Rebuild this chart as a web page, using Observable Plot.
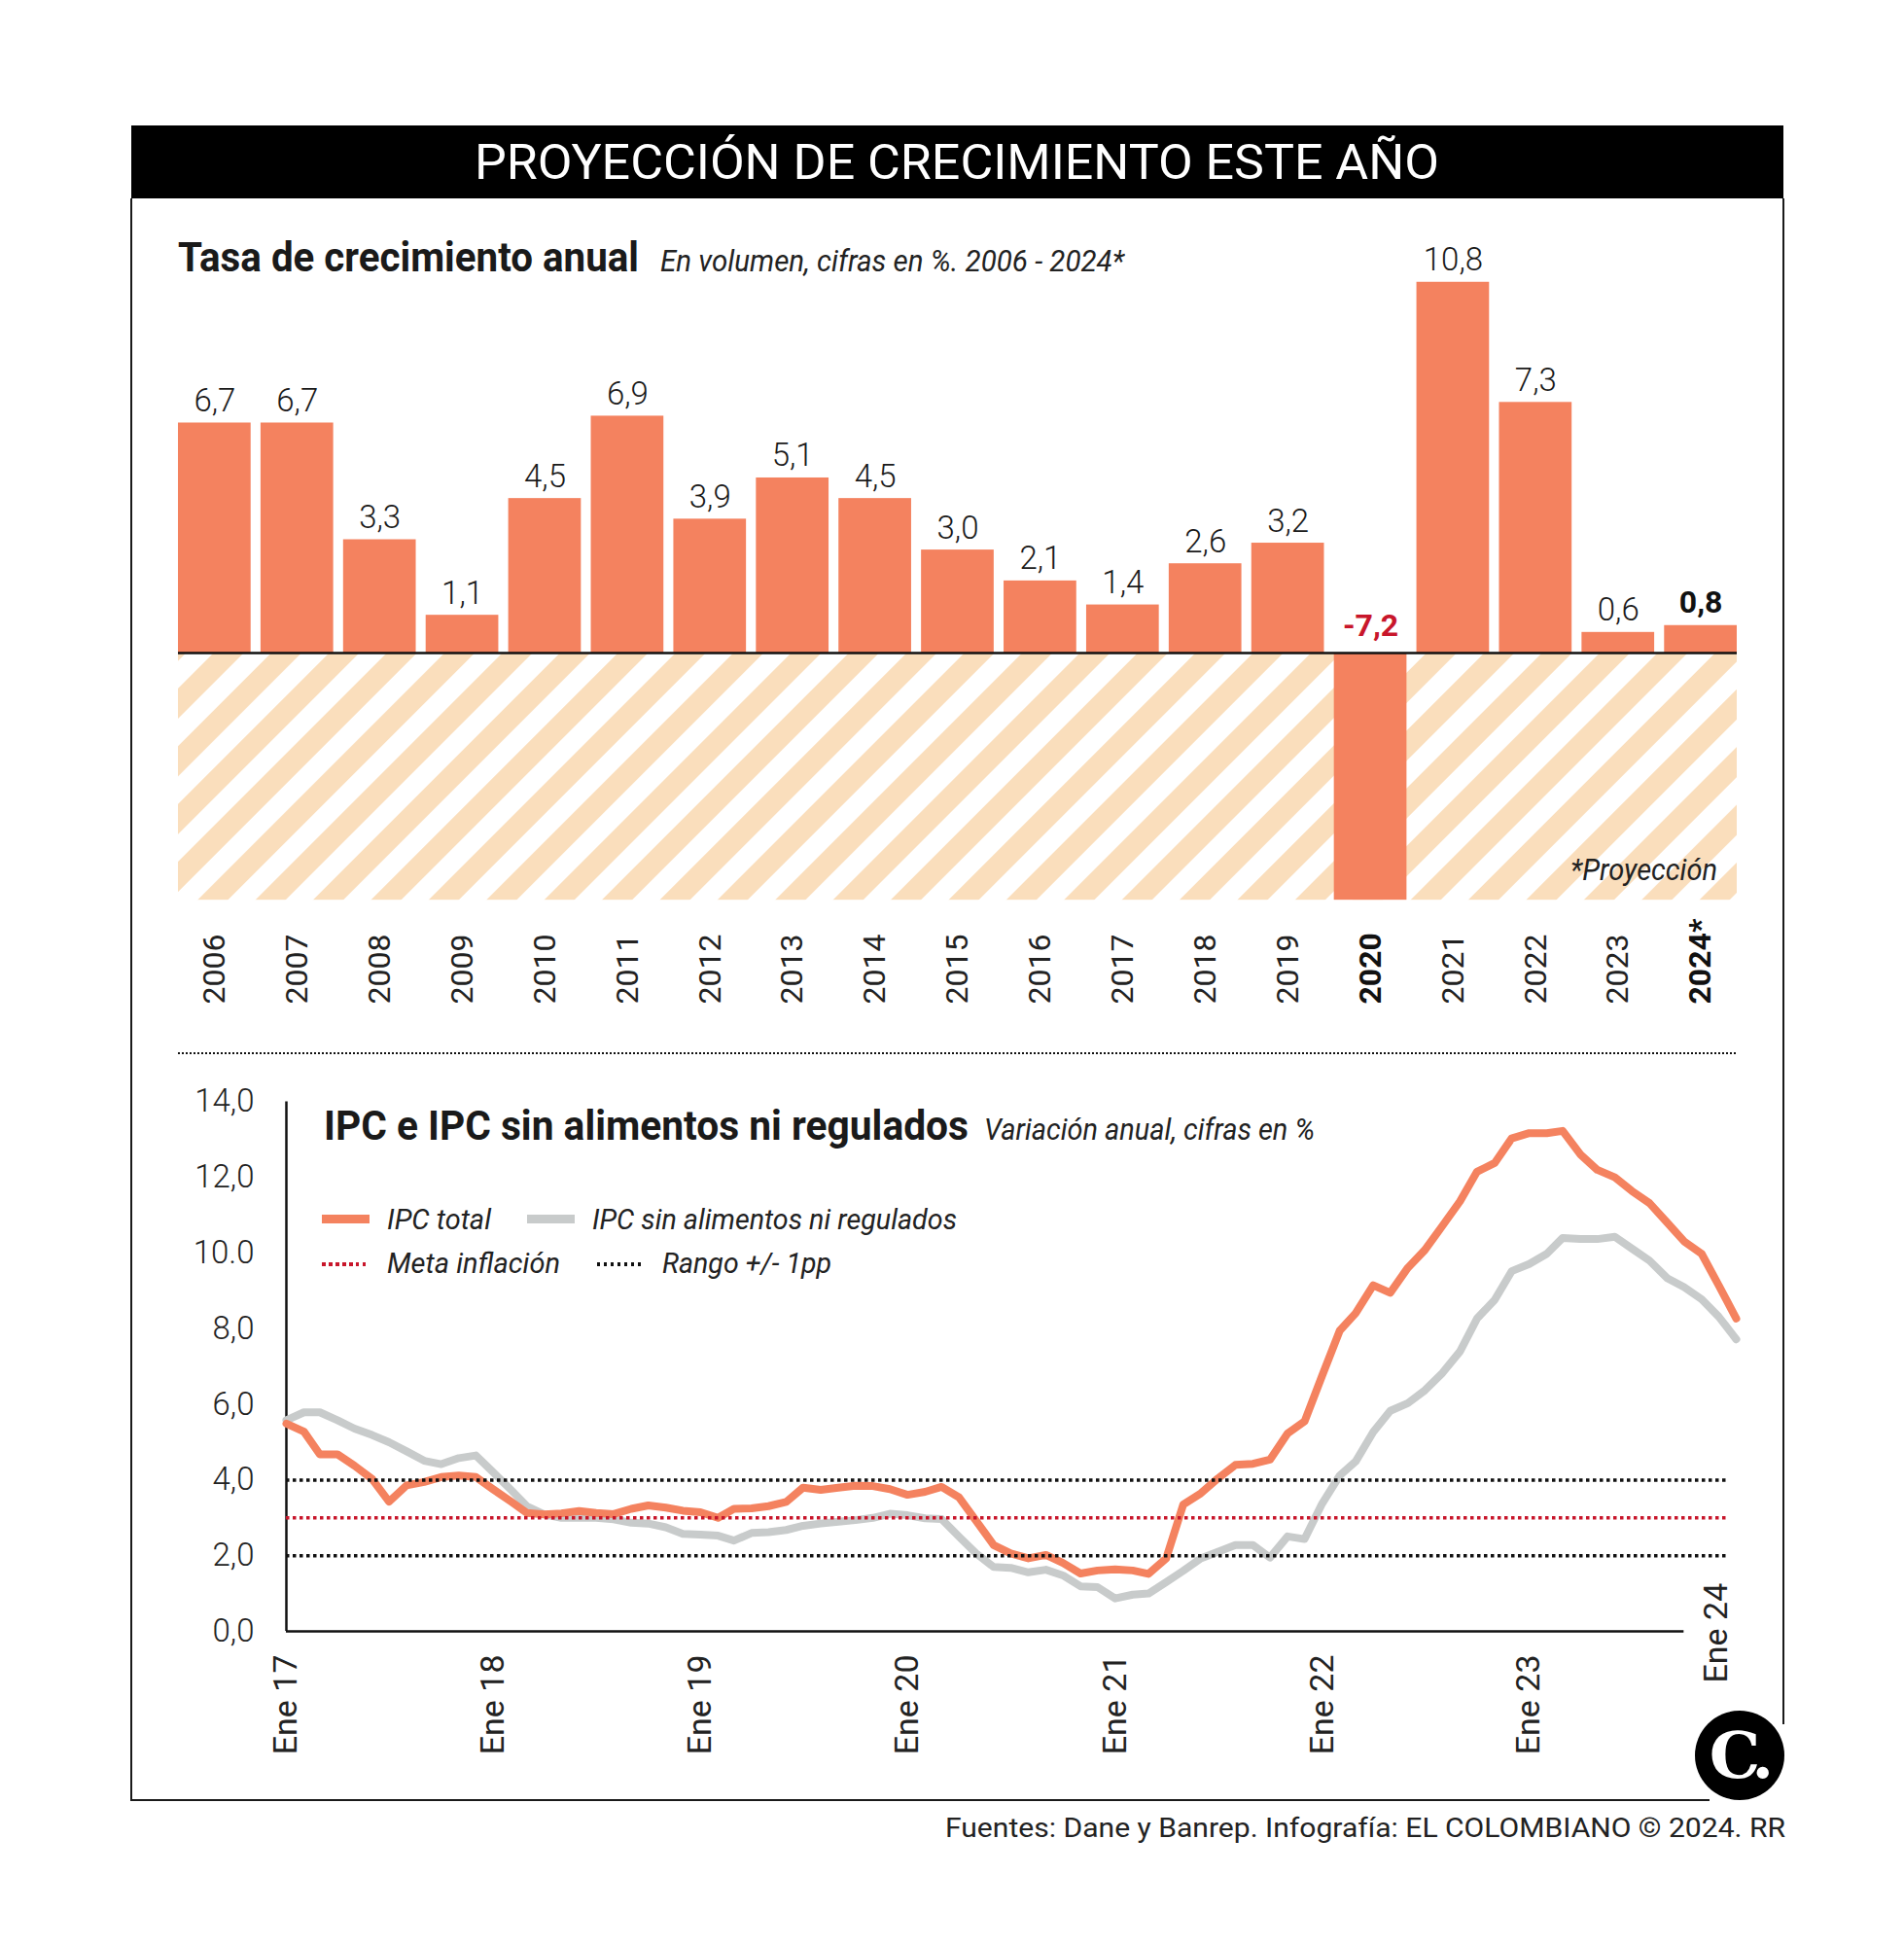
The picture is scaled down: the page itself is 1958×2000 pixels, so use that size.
<!DOCTYPE html>
<html><head><meta charset="utf-8">
<script src="https://cdn.jsdelivr.net/npm/d3@7"></script>
<script src="https://cdn.jsdelivr.net/npm/@observablehq/plot@0.6"></script>
<style>
body{margin:0;background:#fff;}
#page{position:relative;width:1958px;height:2000px;overflow:hidden;font-family:Roboto,sans-serif;color:#1a1a1a;background:#fff;}
.abs{position:absolute;white-space:nowrap;line-height:1;}
.plot{position:absolute;left:0;}
</style></head>
<body>
<svg width="0" height="0" style="position:absolute">
  <defs>
    <pattern id="stripes" patternUnits="userSpaceOnUse" width="42" height="42" patternTransform="rotate(45)">
      <rect width="42" height="42" fill="#ffffff"></rect>
      <rect width="22" height="42" fill="#FADEBC"></rect>
    </pattern>
  </defs>
</svg>
<div id="page"></div>
<script>
// ---------------- DATA ----------------
const years = ["2006","2007","2008","2009","2010","2011","2012","2013","2014","2015","2016","2017","2018","2019","2020","2021","2022","2023","2024"];
const growth = [6.7,6.7,3.3,1.1,4.5,6.9,3.9,5.1,4.5,3.0,2.1,1.4,2.6,3.2,-7.2,10.8,7.3,0.6,0.8];
const yearLabels = ["2006","2007","2008","2009","2010","2011","2012","2013","2014","2015","2016","2017","2018","2019","2020","2021","2022","2023","2024*"];
const boldYears = ["2020","2024"];

const ipcTotal = [
5.49,5.28,4.68,4.68,4.38,4.03,3.43,3.86,3.95,4.08,4.12,4.08,
3.75,3.43,3.13,3.09,3.12,3.18,3.13,3.10,3.24,3.33,3.27,3.19,
3.15,3.00,3.24,3.25,3.31,3.42,3.80,3.74,3.80,3.85,3.84,3.76,
3.61,3.69,3.82,3.54,2.92,2.28,2.06,1.93,2.02,1.81,1.53,1.61,
1.64,1.61,1.52,1.93,3.35,3.65,4.04,4.40,4.43,4.54,5.23,5.55,
6.76,7.95,8.41,9.15,8.95,9.61,10.08,10.72,11.37,12.15,12.38,13.03,
13.17,13.17,13.23,12.61,12.20,12.00,11.64,11.32,10.81,10.31,9.98,9.15,
8.27];
const ipcCore = [
5.58,5.79,5.79,5.58,5.36,5.19,5.00,4.76,4.51,4.42,4.58,4.65,
4.20,3.74,3.31,3.09,3.00,3.00,3.00,2.96,2.87,2.85,2.75,2.58,
2.56,2.53,2.40,2.60,2.62,2.68,2.79,2.85,2.90,2.94,3.00,3.11,
3.07,2.99,2.97,2.50,2.06,1.70,1.68,1.56,1.63,1.48,1.19,1.17,
0.87,0.97,1.00,1.30,1.60,1.93,2.10,2.28,2.28,1.95,2.51,2.44,
3.38,4.12,4.49,5.27,5.83,6.03,6.37,6.83,7.40,8.27,8.76,9.52,
9.71,9.98,10.40,10.37,10.37,10.43,10.12,9.80,9.34,9.10,8.78,8.32,
7.72];
const metaInflacion = [3];
const rango = [2, 4];
const yTickValues = [0,2,4,6,8,10,12,14];
const yTickLabels = ["0,0","2,0","4,0","6,0","8,0","10.0","12,0","14,0"];
const xTickYears = [2017,2018,2019,2020,2021,2022,2023,2024];
const xTickLabels = ["Ene 17","Ene 18","Ene 19","Ene 20","Ene 21","Ene 22","Ene 23","Ene 24"];
const axisEndDate = new Date(Date.UTC(2023, 9, 1));

// ---------------- COLORS ----------------
const ORANGE = "#F4825F", GRAY = "#C8CBCB", RED = "#C8162B", INK = "#1a1a1a";

const page = document.getElementById("page");
function box(l, t, w, h, bg) {
  const d = document.createElement("div");
  d.className = "abs";
  Object.assign(d.style, {left: l+"px", top: t+"px", width: w+"px", height: h+"px", background: bg});
  page.appendChild(d);
  return d;
}
function txt(s, o) {
  const d = document.createElement("div");
  d.className = "abs";
  d.textContent = s;
  d.style.fontFamily = o.family || "Roboto, sans-serif";
  d.style.fontSize = o.size + "px";
  d.style.fontWeight = o.weight || 400;
  d.style.fontStyle = o.italic ? "italic" : "normal";
  d.style.color = o.color || INK;
  d.style.top = (o.base - 0.842 * o.size) + "px";
  d.style.left = "0px";
  page.appendChild(d);
  const nat = d.getBoundingClientRect().width;
  const sx = o.w ? o.w / nat : (o.sx || 1);
  const w = nat * sx;
  const anchor = o.anchor || "start";
  const left = anchor === "start" ? o.x : anchor === "end" ? o.x - w : o.x - w / 2;
  d.style.left = left + "px";
  d.style.transformOrigin = "0 0";
  d.style.transform = `scaleX(${sx})`;
  return d;
}
function condense(svg, label, s) {
  svg.querySelectorAll(`g[aria-label="${label}"] text`).forEach(t => {
    const tr = t.getAttribute("transform") || "";
    const x = t.getAttribute("x") || 0, y = t.getAttribute("y") || 0;
    t.removeAttribute("x"); t.removeAttribute("y");
    t.setAttribute("transform", `${tr} translate(${x},${y}) scale(${s},1)`);
  });
}
const fmt = v => v.toFixed(1).replace(".", ",");

// ---------------- FRAME & HEADER ----------------
box(135, 129, 1699, 75, "#000");
box(134, 204, 2, 1648, INK);
box(1833, 204, 2, 1569, INK);
box(134, 1850, 1624, 2, INK);
txt("PROYECCIÓN DE CRECIMIENTO ESTE AÑO", {x: 984, base: 184, size: 50, color: "#fff", anchor: "middle", w: 992});

// ---------------- BAR CHART ----------------
txt("Tasa de crecimiento anual", {x: 183, base: 279, size: 42, weight: 700, w: 474});
txt("En volumen, cifras en %. 2006 - 2024*", {x: 679, base: 279, size: 31, italic: true, w: 477, color: "#222"});

const bars = years.map((y, i) => ({year: y, value: growth[i], label: fmt(growth[i])}));
const hatchFloor = d3.min(growth);
const Y0 = 671, PPU = 35.3;
const barPlot = Plot.plot({
  width: 1958, height: 1090,
  marginLeft: 183, marginRight: 172, marginTop: 0, marginBottom: 58,
  x: {type: "band", domain: years, paddingInner: 0.12, paddingOuter: 0, round: false, axis: null},
  y: {domain: [hatchFloor, 11], range: [Y0 - hatchFloor * PPU, Y0 - 11 * PPU], axis: null},
  style: {fontFamily: "Roboto, sans-serif", background: "transparent", overflow: "visible"},
  marks: [
    Plot.rect([hatchFloor], {y1: d => d, y2: () => 0, fill: "url(#stripes)"}),
    Plot.barY(bars, {x: "year", y: "value", fill: ORANGE}),
    Plot.ruleY([0], {stroke: "#111", strokeWidth: 2.5}),
    Plot.text(bars.filter(d => !boldYears.includes(d.year)), {x: "year", y: "value", text: "label", dy: -12, lineAnchor: "bottom", fontSize: 33, fontWeight: 300, fill: "#1a1a1a", ariaLabel: "vlab"}),
    Plot.text(bars.filter(d => d.year === "2024"), {x: "year", y: "value", text: "label", dy: -13, lineAnchor: "bottom", fontSize: 32, fontWeight: 700, fill: "#111", ariaLabel: "vlab"}),
    Plot.text(bars.filter(d => d.value < 0), {x: "year", y: () => 0, text: "label", dy: -18, lineAnchor: "bottom", fontSize: 32, fontWeight: 700, fill: RED, ariaLabel: "vlab"}),
    Plot.text(years.filter(y => !boldYears.includes(y)), {x: d => d, text: d => yearLabels[years.indexOf(d)], frameAnchor: "bottom", rotate: -90, textAnchor: "start", lineAnchor: "middle", fontSize: 32, fill: "#222"}),
    Plot.text(years.filter(y => boldYears.includes(y)), {x: d => d, text: d => yearLabels[years.indexOf(d)], frameAnchor: "bottom", rotate: -90, textAnchor: "start", lineAnchor: "middle", fontSize: 32, fontWeight: 700, fill: "#111"})
  ]
});
condense(barPlot, "vlab", 0.84);
barPlot.classList.add("plot");
barPlot.style.top = "0px";
page.appendChild(barPlot);

txt("*Proyección", {x: 1766, base: 905, size: 31, italic: true, anchor: "end", w: 151, color: "#222"});

// dotted separator
const sep = box(183, 1082, 1603, 2, "transparent");
sep.style.background = "repeating-linear-gradient(to right, #111 0 2px, transparent 2px 4px)";

// ---------------- LINE CHART ----------------
txt("IPC e IPC sin alimentos ni regulados", {x: 333, base: 1172, size: 42, weight: 700, w: 663});
txt("Variación anual, cifras en %", {x: 1012, base: 1172, size: 31, italic: true, w: 340, color: "#222"});

// legend
box(331, 1249, 49, 9, ORANGE);
box(542, 1249, 49, 9, GRAY);
const dr = box(331, 1298, 48, 3.5, "transparent");
dr.style.background = `repeating-linear-gradient(to right, ${RED} 0 3.5px, transparent 3.5px 7px)`;
const db = box(614, 1298, 46, 3.5, "transparent");
db.style.background = "repeating-linear-gradient(to right, #111 0 3.5px, transparent 3.5px 7px)";
txt("IPC total", {x: 398, base: 1264, size: 30, italic: true, w: 107, color: "#222"});
txt("IPC sin alimentos ni regulados", {x: 609, base: 1264, size: 30, italic: true, w: 375, color: "#222"});
txt("Meta inflación", {x: 398, base: 1309, size: 30, italic: true, w: 178, color: "#222"});
txt("Rango +/- 1pp", {x: 681, base: 1309, size: 30, italic: true, w: 174, color: "#222"});

const start = new Date(Date.UTC(2017, 0, 1));
const monthDate = i => new Date(Date.UTC(2017, i, 1));
const totalData = ipcTotal.map((v, i) => ({date: monthDate(i), value: v}));
const coreData = ipcCore.map((v, i) => ({date: monthDate(i), value: v}));
const xTicks = xTickYears.map(y => new Date(Date.UTC(y, 0, 1)));

const TOP2 = 1100, Z0 = 577, PPU2 = 38.9;
const linePlot = Plot.plot({
  width: 1958, height: 720,
  marginLeft: 294, marginRight: 183, marginTop: 0, marginBottom: 720 - Z0,
  x: {type: "utc", domain: [start, xTicks[xTicks.length - 1]], range: [294, 1785], axis: null},
  y: {domain: [0, 14], range: [Z0, Z0 - 14 * PPU2], axis: null},
  style: {fontFamily: "Roboto, sans-serif", background: "transparent", overflow: "visible"},
  marks: [
    Plot.axisY(yTickValues, {anchor: "left", tickSize: 0, tickPadding: 33, fontSize: 33, fontWeight: 300, fill: "#222",
      tickFormat: d => yTickLabels[yTickValues.indexOf(d)], label: null}),
    Plot.ruleX([start], {y1: () => 0, y2: () => 14, stroke: "#111", strokeWidth: 2.5}),
    Plot.ruleY([0], {x1: () => start, x2: () => axisEndDate, stroke: "#111", strokeWidth: 2.5}),
    Plot.lineY(coreData, {x: "date", y: "value", stroke: GRAY, strokeWidth: 8, strokeLinejoin: "round"}),
    Plot.lineY(totalData, {x: "date", y: "value", stroke: ORANGE, strokeWidth: 8, strokeLinejoin: "round"}),
    Plot.ruleY(rango, {stroke: "#111", strokeWidth: 3.5, strokeDasharray: "3.5,3.5"}),
    Plot.ruleY(metaInflacion, {stroke: RED, strokeWidth: 3.5, strokeDasharray: "3.5,3.5"}),
    Plot.text(xTicks.slice(0, 7), {x: d => d, y: () => 0, text: (d, i) => xTickLabels[i], rotate: -90, textAnchor: "end", lineAnchor: "middle", dy: 24, fontSize: 34, fill: "#222"}),
    Plot.text(xTicks.slice(7), {x: d => d, y: () => 0, text: () => xTickLabels[7], rotate: -90, textAnchor: "start", lineAnchor: "middle", dy: 53, dx: -20, fontSize: 34, fill: "#222"})
  ]
});
linePlot.classList.add("plot");
linePlot.style.top = TOP2 + "px";
page.appendChild(linePlot);

// ---------------- LOGO & FOOTER ----------------
const logo = box(1743, 1759, 92, 92, "#000");
logo.style.borderRadius = "50%";
const c = document.createElement("div");
c.textContent = "C.";
Object.assign(c.style, {position: "absolute", left: "0", top: "0", width: "92px", height: "92px", display: "flex", alignItems: "center", justifyContent: "center",
  color: "#fff", fontFamily: "'DejaVu Serif', 'Liberation Serif', serif", fontWeight: "900", fontSize: "66px", letterSpacing: "-8px", lineHeight: "1", paddingRight: "4px", boxSizing: "border-box"});
logo.appendChild(c);

txt("Fuentes: Dane y Banrep. Infografía: EL COLOMBIANO © 2024. RR", {x: 1836, base: 1890, size: 28, anchor: "end", w: 864, color: "#222"});
</script>
</body></html>
